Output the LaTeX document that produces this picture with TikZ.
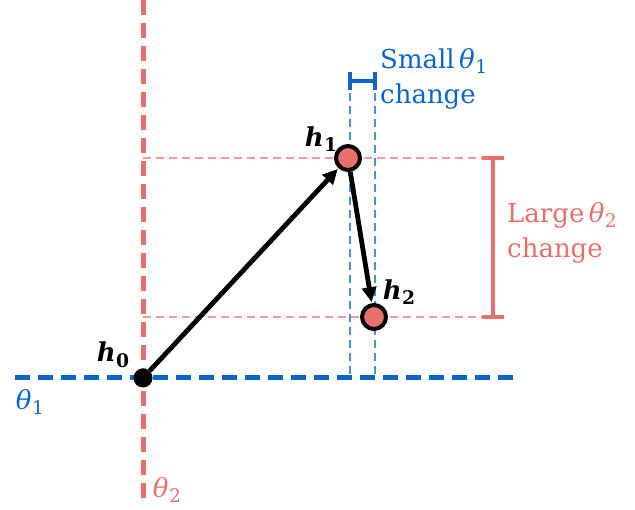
\documentclass[tikz,border=0pt]{standalone}
\usepackage{fontspec}
\setmainfont{DejaVu Serif}
\usetikzlibrary{arrows.meta}
\definecolor{cred}{HTML}{E8706C}
\definecolor{lred}{HTML}{F29C98}
\definecolor{cblue}{HTML}{0A66CC}
\definecolor{lblue}{HTML}{4A90DA}
\newcommand\thsym[1]{{\itshape θ}\kern0.5pt\raisebox{-0.22em}{\scalebox{0.72}{#1}}}
\newcommand\hsym[1]{{\bfseries\itshape h}\kern0.5pt\raisebox{-0.22em}{\scalebox{0.72}{\bfseries #1}}}
\tikzset{
  thickdash/.style={line width=5pt, dash pattern=on 15pt off 8pt},
  thindash/.style={line width=2.4pt, dash pattern=on 8pt off 5pt},
  pt/.style={circle, draw=black, line width=4pt, fill=cred, minimum size=24pt, inner sep=0pt},
  dotpt/.style={circle, fill=black, minimum size=19pt, inner sep=0pt},
  arr/.style={line width=4.8pt, -{Triangle[length=15pt,width=14pt]}, shorten >=1pt},
  lab/.style={font=\fontsize{26}{35}\selectfont, inner sep=0pt},
  hlab/.style={font=\fontsize{26}{30}\selectfont, inner sep=0pt},
  brk/.style={line width=4pt}
}
\begin{document}
\begin{tikzpicture}[x=1pt,y=-1pt]
\useasboundingbox (0,0) rectangle (635,510);
% coordinates
\coordinate (vt) at (143,0);
\coordinate (vb) at (143,505);
\coordinate (hl) at (15,378);
\coordinate (hr) at (520,378);
\coordinate (r1a) at (143,158);
\coordinate (r1b) at (495,158);
\coordinate (r2a) at (143,317);
\coordinate (r2b) at (495,317);
\coordinate (b1t) at (350,80);
\coordinate (b1b) at (350,378);
\coordinate (b2t) at (375,80);
\coordinate (b2b) at (375,378);
% thin dashed guides
\draw[lred, thindash] (r1a) -- (r1b);
\draw[lred, thindash] (r2a) -- (r2b);
\draw[lblue, thindash] (b1t) -- (b1b);
\draw[lblue, thindash] (b2t) -- (b2b);
% axes
\draw[cred, thickdash] (vt) -- (vb);
\draw[cblue, thickdash] (hl) -- (hr);
% brackets
\coordinate (sbl) at (350,81);
\coordinate (sbr) at (375,81);
\draw[cblue, brk] (sbl) -- (sbr);
\draw[cblue, brk] ([yshift=-9pt]sbl) -- ([yshift=9pt]sbl);
\draw[cblue, brk] ([yshift=-9pt]sbr) -- ([yshift=9pt]sbr);
\coordinate (lbt) at (493,158);
\coordinate (lbb) at (493,317);
\draw[cred, brk] (lbt) -- (lbb);
\draw[cred, brk] ([xshift=-11pt]lbt) -- ([xshift=11pt]lbt);
\draw[cred, brk] ([xshift=-11pt]lbb) -- ([xshift=11pt]lbb);
% points
\node[dotpt] (h0) at (143,378) {};
\node[pt] (h1) at (348,158) {};
\node[pt] (h2) at (374,317) {};
\draw[arr] (h0) -- (h1);
\draw[arr] (h1) -- (h2);
% labels
\node[hlab, anchor=center] (lh0) at (113,355) {\hsym{0}};
\node[hlab, anchor=center] (lh1) at (321,139) {\hsym{1}};
\node[hlab, anchor=center] (lh2) at (399,292) {\hsym{2}};
\node[lab, cblue, anchor=center] (lt1) at (30,402) {\thsym{1}};
\node[lab, cred, anchor=center] (lt2) at (167,490) {\thsym{2}};
\node[lab, cblue, anchor=north west, align=left] (ls) at (380,48) {Small\,\thsym{1}\\change};
\node[lab, cred, anchor=north west, align=left] (ll) at (507,202) {Large\,\thsym{2}\\change};
\end{tikzpicture}
\end{document}
